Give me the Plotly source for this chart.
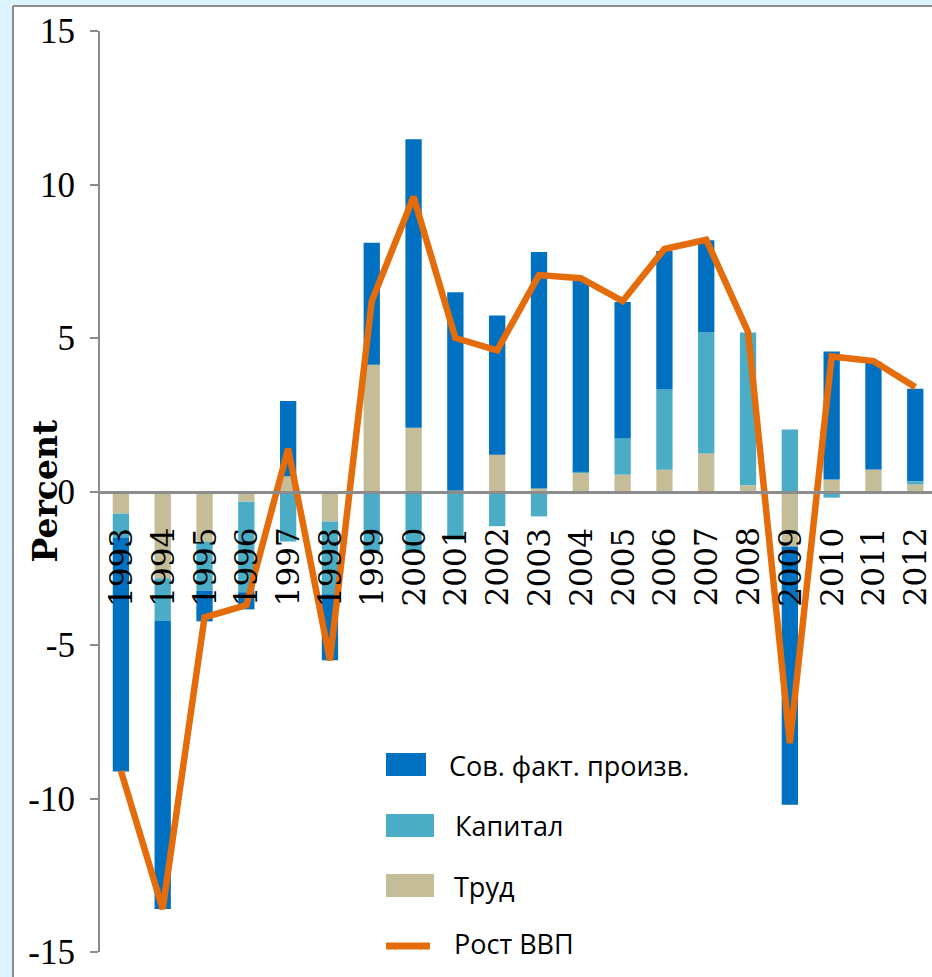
import plotly.graph_objects as go

years = ["1993", "1994", "1995", "1996", "1997", "1998", "1999", "2000", "2001", "2002",
         "2003", "2004", "2005", "2006", "2007", "2008", "2009", "2010", "2011", "2012"]
labor = [-0.72, -2.83, -1.63, -0.33, 0.50, -0.98, 4.13, 2.08, 0.03, 1.20,
         0.10, 0.62, 0.55, 0.71, 1.24, 0.20, -1.79, 0.39, 0.72, 0.23]
capital = [-0.78, -1.37, -1.60, -2.95, -1.63, -2.37, -1.95, -1.95, -1.57, -1.13,
           -0.81, 0.02, 1.18, 2.61, 3.94, 4.98, 2.02, -0.20, -0.07, 0.10]
tfp = [-7.62, -9.40, -1.00, -0.56, 2.45, -2.15, 3.97, 9.39, 6.46, 4.53,
       7.70, 6.23, 4.44, 4.51, 3.00, -0.08, -8.41, 4.17, 3.51, 3.02]
gdp = [-9.1, -13.6, -4.1, -3.7, 1.4, -5.5, 6.2, 9.6, 5.0, 4.6,
       7.05, 6.95, 6.2, 7.9, 8.2, 5.2, -8.2, 4.4, 4.25, 3.4]

legend_names = ["Сов. факт. произв.", "Капитал", "Труд", "Рост ВВП"]
y_ticks = [-15, -10, -5, 0, 5, 10, 15]

C_TFP = "#0070C0"
C_CAP = "#4BACC6"
C_LAB = "#C4BD97"
C_GDP = "#E46C0A"
GREY = "#8C8C8C"
FRAME_BG = "#DBF4FD"

W, H = 932, 977
ML, MR, MT, MB = 100, 0, 31, 25
PW, PH = W - ML - MR, H - MT - MB


def px(x):
    return (x - ML) / PW


def py(y):
    return (H - MB - y) / PH


idx = list(range(len(years)))

fig = go.Figure()
bw = 0.39
fig.add_trace(go.Bar(x=idx, y=labor, name=legend_names[2], marker_color=C_LAB, width=bw,
                     marker_line_width=0, showlegend=False))
fig.add_trace(go.Bar(x=idx, y=capital, name=legend_names[1], marker_color=C_CAP, width=bw,
                     marker_line_width=0, showlegend=False))
fig.add_trace(go.Bar(x=idx, y=tfp, name=legend_names[0], marker_color=C_TFP, width=bw,
                     marker_line_width=0, showlegend=False))
fig.add_trace(go.Scatter(x=idx, y=gdp, name=legend_names[3], mode="lines",
                         line=dict(color=C_GDP, width=6.5), showlegend=False))

annotations = []
# year labels under the zero line
for i, yr in zip(idx, years):
    annotations.append(dict(x=i, y=0, xref="x", yref="y", text=yr, showarrow=False,
                            textangle=-90, yanchor="top", xanchor="center", yshift=-35,
                            borderpad=0,
                            font=dict(family="DejaVu Serif", size=31, color="black")))

# "Percent" axis title
annotations.append(dict(x=px(45), y=0, xref="paper", yref="y", text="<b>Percent</b>",
                        showarrow=False, textangle=-90, xanchor="center", yanchor="middle",
                        font=dict(family="DejaVu Serif", size=33, color="black")))

# frame: light-blue margins with a grey border line
shapes = [
    dict(type="rect", xref="paper", yref="paper", layer="below",
         x0=px(0), x1=px(13), y0=py(H), y1=py(0), fillcolor=FRAME_BG, line=dict(width=0)),
    dict(type="rect", xref="paper", yref="paper", layer="below",
         x0=px(0), x1=px(W), y0=py(6), y1=py(0), fillcolor=FRAME_BG, line=dict(width=0)),
    dict(type="line", xref="paper", yref="paper", layer="below",
         x0=px(13), x1=px(13), y0=py(H), y1=py(6), line=dict(color=GREY, width=2)),
    dict(type="line", xref="paper", yref="paper", layer="below",
         x0=px(13), x1=px(W), y0=py(6), y1=py(6), line=dict(color=GREY, width=2)),
]

# legend (drawn manually to match swatch sizes)
swatches = [(C_TFP, 386, 426, 753, 776, 765, 447),
            (C_CAP, 386, 434, 814, 837, 825, 453),
            (C_LAB, 386, 434, 874, 897, 886, 452)]
for (col, x0, x1, y0, y1, yc, tx), name in zip(swatches, legend_names[:3]):
    shapes.append(dict(type="rect", xref="paper", yref="paper", x0=px(x0), x1=px(x1),
                       y0=py(y1), y1=py(y0), fillcolor=col, line=dict(width=0)))
    annotations.append(dict(x=px(tx), y=py(yc), xref="paper", yref="paper", text=name,
                            showarrow=False, xanchor="left", yanchor="middle",
                            font=dict(family="Open Sans", size=27, color="black")))
shapes.append(dict(type="line", xref="paper", yref="paper", x0=px(386), x1=px(430),
                   y0=py(946), y1=py(946), line=dict(color=C_GDP, width=7)))
annotations.append(dict(x=px(452), y=py(943), xref="paper", yref="paper", text=legend_names[3],
                        showarrow=False, xanchor="left", yanchor="middle",
                        font=dict(family="Open Sans", size=27, color="black")))

fig.update_layout(
    width=W, height=H,
    margin=dict(l=ML, r=MR, t=MT, b=MB, autoexpand=False),
    paper_bgcolor="white",
    plot_bgcolor="rgba(0,0,0,0)",
    barmode="relative",
    showlegend=False,
    shapes=shapes,
    annotations=annotations,
)

fig.update_xaxes(range=[-0.5, 19.4], showticklabels=False, ticks="",
                 showgrid=False, zeroline=False, anchor="free", position=0.5,
                 showline=True, linecolor=GREY, linewidth=2.5, automargin=False)
fig.update_yaxes(range=[-15, 15], tickvals=y_ticks, ticktext=[str(v) for v in y_ticks],
                 showgrid=False, zeroline=False, showline=True, linecolor=GREY,
                 linewidth=2, ticks="outside", ticklen=8, tickwidth=2, tickcolor=GREY,
                 tickfont=dict(family="Liberation Serif", size=35, color="black"),
                 ticklabelstandoff=8, automargin=False)

fig.write_html("out.html", config={"displayModeBar": False},
               post_script="document.body.style.margin='0';document.body.style.overflow='hidden';")
